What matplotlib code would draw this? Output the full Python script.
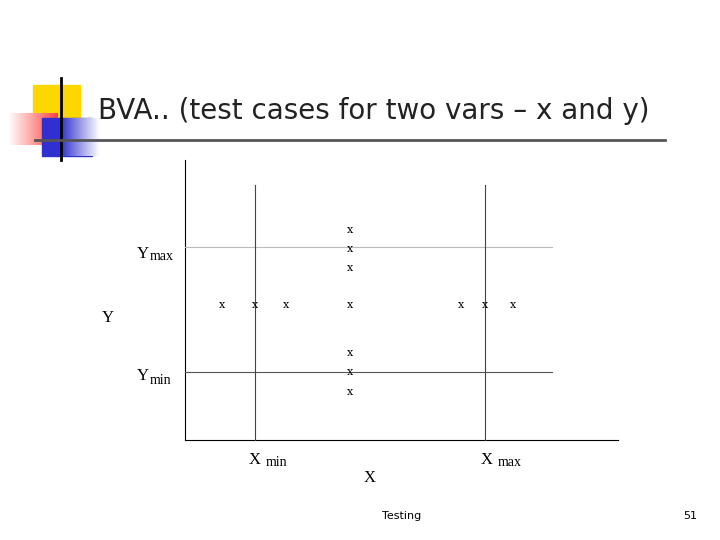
import matplotlib
matplotlib.use("Agg")
import matplotlib.pyplot as plt
from matplotlib.patches import Rectangle
from matplotlib.colors import LinearSegmentedColormap
import numpy as np

# test-case marker positions (slide pixel coordinates)
pt_x = [350, 350, 350, 222, 255, 286, 350, 461, 485, 513, 350, 350, 350]
pt_y = [230, 249, 268, 305, 305, 305, 305, 305, 305, 305, 353, 372, 392]
title = "BVA.. (test cases for two vars – x and y)"

fig = plt.figure(figsize=(7.2, 5.4), dpi=100)
ax = fig.add_axes([0, 0, 1, 1])
ax.set_xlim(0, 720); ax.set_ylim(540, 0); ax.axis("off")

# logo
ax.add_patch(Rectangle((33, 85), 47, 42, color="#ffd700", zorder=1))
grad = np.linspace(1, 0, 50).reshape(1, -1)
red = LinearSegmentedColormap.from_list("r", ["#ffffff", "#ff4040"])
ax.imshow(grad[:, ::-1], extent=(8, 58, 145, 113), cmap=red, aspect="auto", zorder=2)
ax.add_patch(Rectangle((42, 118), 50, 38, color="#3030d0", zorder=3))
blue = LinearSegmentedColormap.from_list("b", ["#3030d0", "#ffffff"])
ax.imshow(grad[:, ::-1], extent=(60, 100, 156, 118), cmap=blue, aspect="auto", zorder=3)
ax.plot([61, 61], [78, 160], color="black", lw=2, zorder=4)
ax.plot([35, 665], [140, 140], color="#555555", lw=2, zorder=4)
ax.text(98, 111, title, fontsize=20, family="DejaVu Sans", va="center", color="#222222")

# axes and boundary lines
ax.plot([185, 185], [160, 440], color="black", lw=0.8)
ax.plot([185, 618], [440, 440], color="black", lw=0.8)
ax.plot([185, 552], [247, 247], color="#bbbbbb", lw=0.8)
ax.plot([185, 552], [372, 372], color="#555555", lw=0.8)
ax.plot([255, 255], [185, 440], color="#444444", lw=0.8)
ax.plot([485, 485], [185, 440], color="#444444", lw=0.8)

for x, y in zip(pt_x, pt_y):
    ax.text(x, y, "x", family="DejaVu Serif", fontsize=8, ha="center", va="center")

sf = dict(family="Liberation Serif", va="center")
ax.text(137, 254, "Y", fontsize=12, **sf); ax.text(150, 257, "max", fontsize=10, **sf)
ax.text(102, 318, "Y", fontsize=12, **sf)
ax.text(137, 376, "Y", fontsize=12, **sf); ax.text(150, 380, "min", fontsize=10, **sf)
ax.text(249, 460, "X", fontsize=12, **sf); ax.text(266, 462, "min", fontsize=10, **sf)
ax.text(364, 478, "X", fontsize=12, **sf)
ax.text(481, 460, "X", fontsize=12, **sf); ax.text(498, 462, "max", fontsize=10, **sf)

ax.text(402, 516, "Testing", fontsize=8, ha="center", va="center", family="DejaVu Sans")
ax.text(690, 516, "51", fontsize=8, ha="center", va="center", family="DejaVu Sans")

fig.savefig("out.png", dpi=100)
